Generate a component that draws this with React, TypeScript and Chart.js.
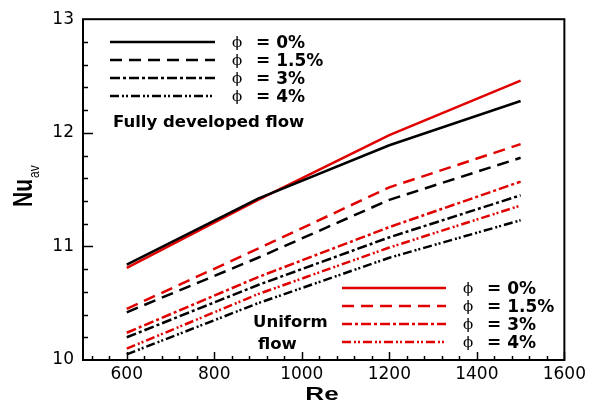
import React, { useEffect, useRef } from "react";
import { Chart, registerables } from "chart.js";

Chart.register(...registerables);

// Reynolds numbers
const reValues = [600, 900, 1200, 1500];
// Fully developed flow (black)
const fd0 = [10.84, 11.42, 11.89, 12.28];
const fd15 = [10.42, 10.9, 11.41, 11.78];
const fd3 = [10.2, 10.66, 11.08, 11.45];
const fd4 = [10.05, 10.5, 10.9, 11.23];
// Uniform flow (red)
const uf0 = [10.81, 11.41, 11.98, 12.46];
const uf15 = [10.45, 10.98, 11.52, 11.9];
const uf3 = [10.24, 10.73, 11.17, 11.57];
const uf4 = [10.1, 10.58, 10.99, 11.36];

const xTicks = [600, 800, 1000, 1200, 1400, 1600];
const yTicks = [10, 11, 12, 13];
const phiLabels = ["= 0%", "= 1.5%", "= 3%", "= 4%"];

const RED = "#e00000";
const BLACK = "#000000";
const DASHES: number[][] = [[], [12, 7], [10, 3, 3, 3], [9, 3, 2, 2, 2, 3]];

const fdSeries = [fd0, fd15, fd3, fd4];
const ufSeries = [uf0, uf15, uf3, uf4];

const toPts = (ys: number[]) => reValues.map((x, i) => ({ x, y: ys[i] }));

const decorPlugin = {
  id: "decor",
  afterDraw(chart: any) {
    const ctx = chart.ctx as CanvasRenderingContext2D;
    const { left, right, top, bottom } = chart.chartArea;
    const xs = chart.scales.x;
    const ys = chart.scales.y;
    ctx.save();
    // frame
    ctx.strokeStyle = "#000";
    ctx.lineWidth = 2;
    ctx.setLineDash([]);
    ctx.strokeRect(left, top, right - left, bottom - top);
    // x ticks (inward)
    ctx.lineWidth = 1.5;
    for (let v = 520; v <= 1600; v += 40) {
      const px = Math.round(xs.getPixelForValue(v)) + 0.5;
      const major = (v - 600) % 200 === 0;
      const len = major ? 8 : 4;
      ctx.beginPath();
      ctx.moveTo(px, bottom);
      ctx.lineTo(px, bottom - len);
      ctx.stroke();
    }
    // y ticks (inward)
    for (let k = 1; k < 15; k++) {
      const v = 10 + k * 0.2;
      const py = Math.round(ys.getPixelForValue(v)) + 0.5;
      const major = k % 5 === 0;
      const len = major ? 10 : 5;
      ctx.beginPath();
      ctx.moveTo(left, py);
      ctx.lineTo(left + len, py);
      ctx.stroke();
    }

    // legends
    const drawLegend = (x1: number, x2: number, rowsY: number[], color: string, phiX: number, txtX: number) => {
      rowsY.forEach((y, i) => {
        ctx.strokeStyle = color;
        ctx.lineWidth = 2.5;
        ctx.setLineDash(DASHES[i]);
        ctx.beginPath();
        ctx.moveTo(x1, y);
        ctx.lineTo(x2, y);
        ctx.stroke();
        ctx.setLineDash([]);
        ctx.fillStyle = "#000";
        ctx.textAlign = "left";
        ctx.textBaseline = "alphabetic";
        ctx.font = "15px 'DejaVu Serif'";
        ctx.fillText("ϕ", phiX, y + 5);
        ctx.font = "bold 17px 'DejaVu Sans'";
        ctx.fillText(phiLabels[i], txtX, y + 6);
      });
    };
    drawLegend(110, 215, [42, 60, 78, 96], BLACK, 232, 256);
    drawLegend(342, 446, [288, 306, 324, 342], RED, 463, 487);

    ctx.fillStyle = "#000";
    ctx.textAlign = "left";
    ctx.textBaseline = "alphabetic";
    ctx.font = "bold 16.5px 'DejaVu Sans'";
    ctx.fillText("Fully developed flow", 113, 126.5);
    ctx.fillText("Uniform", 253, 327);
    ctx.fillText("flow", 258, 349);

    // x title
    ctx.save();
    ctx.translate(322, 400);
    ctx.scale(1.45, 1);
    ctx.textAlign = "center";
    ctx.font = "bold 18px 'Liberation Sans'";
    ctx.fillText("Re", 0, 0);
    ctx.restore();

    // y title Nu_av
    ctx.save();
    ctx.translate(32, 207);
    ctx.rotate(-Math.PI / 2);
    ctx.scale(1, 1.3);
    ctx.textAlign = "left";
    ctx.font = "bold 21px 'Liberation Sans'";
    ctx.fillText("Nu", 0, 0);
    ctx.restore();
    ctx.save();
    ctx.translate(38.5, 178);
    ctx.rotate(-Math.PI / 2);
    ctx.scale(1, 1.15);
    ctx.textAlign = "left";
    ctx.font = "12px 'Liberation Sans'";
    ctx.fillText("av", 0, 0);
    ctx.restore();

    ctx.restore();
  },
};

export default function App() {
  const ref = useRef<HTMLCanvasElement | null>(null);
  useEffect(() => {
    if (!ref.current) return;
    const datasets: any[] = [];
    fdSeries.forEach((s, i) => {
      datasets.push({
        label: "FD " + phiLabels[i],
        data: toPts(s),
        borderColor: BLACK,
        borderWidth: 2.5,
        borderDash: DASHES[i],
        pointRadius: 0,
        tension: 0,
        fill: false,
      });
    });
    ufSeries.forEach((s, i) => {
      datasets.push({
        label: "UF " + phiLabels[i],
        data: toPts(s),
        borderColor: RED,
        borderWidth: 2.5,
        borderDash: DASHES[i],
        pointRadius: 0,
        tension: 0,
        fill: false,
      });
    });
    const chart = new Chart(ref.current, {
      type: "line",
      data: { datasets },
      options: {
        animation: false,
        responsive: false,
        devicePixelRatio: 1,
        layout: { padding: { top: 15, right: 25, left: 0, bottom: 0 } },
        plugins: { legend: { display: false }, tooltip: { enabled: false } },
        scales: {
          x: {
            type: "linear",
            min: 500,
            max: 1600,
            grid: { display: false, drawTicks: false, tickLength: 0 },
            border: { display: false },
            afterBuildTicks: (scale: any) => {
              scale.ticks = xTicks.map((v) => ({ value: v }));
            },
            afterFit: (scale: any) => {
              scale.height = 48;
            },
            ticks: {
              autoSkip: false,
              maxRotation: 0,
              padding: 4,
              color: "#000",
              font: { family: "'DejaVu Sans'", size: 17 },
              callback: (v: any) => String(v),
            },
          },
          y: {
            type: "linear",
            min: 10,
            max: 13,
            grid: { display: false, drawTicks: false, tickLength: 0 },
            border: { display: false },
            afterBuildTicks: (scale: any) => {
              scale.ticks = yTicks.map((v) => ({ value: v }));
            },
            afterFit: (scale: any) => {
              scale.width = 83;
            },
            ticks: {
              padding: 9,
              color: "#000",
              font: { family: "'DejaVu Sans'", size: 17 },
              callback: (v: any) => String(v),
            },
          },
        },
      },
      plugins: [decorPlugin],
    });
    return () => chart.destroy();
  }, []);
  return (
    <div style={{ position: "fixed", left: 0, top: 0, width: 590, height: 408, background: "#fff" }}>
      <canvas ref={ref} width={590} height={408} style={{ width: 590, height: 408, display: "block" }} />
    </div>
  );
}
